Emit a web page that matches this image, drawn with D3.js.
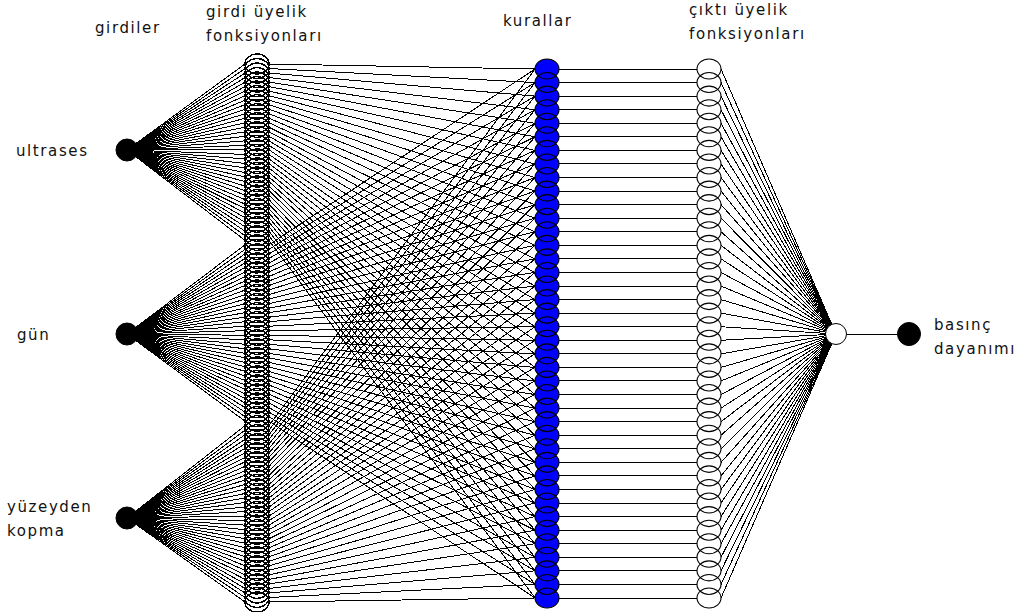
<!DOCTYPE html>
<html>
<head>
<meta charset="utf-8">
<script src="https://cdn.jsdelivr.net/npm/d3@7"></script>
<style>
  body { margin: 0; background: #fff; }
  text { font-family: "DejaVu Sans", sans-serif; font-size: 15px; letter-spacing: 1.6px; fill: #111; }
</style>
</head>
<body>
<svg width="1026" height="612"></svg>
<script>
// inputs of the network and their labels (one line per entry)
var inputs = ["ultrases", "gün", "yüzeyden kopma"];
var inputLabels = [["ultrases"], ["gün"], ["yüzeyden", "kopma"]];
var outputLabel = ["basınç", "dayanımı"];
// layer titles
var layerTitles = [
  ["girdiler"],
  ["girdi üyelik", "fonksiyonları"],
  ["kurallar"],
  ["çıktı üyelik", "fonksiyonları"]
];
// clustering type fis: one mf per rule per input
var ruleCount = 40;
var layers = ["input", "inmf", "rule", "outmf", "sum", "output"];

var svg = d3.select("svg");

// x position of each layer
var x = d3.scaleOrdinal()
  .domain(layers)
  .range([127, 257, 547, 709, 836, 909]);
var rx = 12, ry = 10;

// y scales
var yInput = d3.scalePoint().domain(d3.range(inputs.length)).range([150, 518]);
var mfCount = inputs.length * ruleCount;
var yMf = d3.scaleLinear().domain([0, mfCount - 1]).range([64, 602]);
var yRule = d3.scaleLinear().domain([0, ruleCount - 1]).range([69, 598]);
var yMid = (yRule(0) + yRule(ruleCount - 1)) / 2 + 0.5;

var links = svg.append("g")
  .attr("stroke", "#000")
  .attr("stroke-width", 1)
  .attr("shape-rendering", "crispEdges");

function link(x1, y1, x2, y2) {
  links.append("line")
    .attr("x1", x1).attr("y1", y1)
    .attr("x2", x2).attr("y2", y2);
}

// input -> input membership functions
inputs.forEach(function(name, i) {
  for (var k = 0; k < ruleCount; k++) {
    link(x("input"), yInput(i), x("inmf") - rx, yMf(i * ruleCount + k));
  }
});

// input mf -> rule (rule k uses mf k of every input)
for (var k = 0; k < ruleCount; k++) {
  inputs.forEach(function(name, i) {
    link(x("inmf") + rx, yMf(i * ruleCount + k), x("rule") - rx, yRule(k));
  });
  // rule -> output mf
  link(x("rule") + rx, yRule(k), x("outmf") - rx, yRule(k));
  // output mf -> sum node
  link(x("outmf") + rx, yRule(k), x("sum"), yMid);
}
link(x("sum"), yMid, x("output"), yMid);

// node columns: fills first, then all outlines on top
var cols = [
  { cls: "inmf", xk: "inmf", n: mfCount, y: yMf, fill: "none", sw: 1.4 },
  { cls: "rule", xk: "rule", n: ruleCount, y: yRule, fill: "#0000ff", sw: 1.1 },
  { cls: "outmf", xk: "outmf", n: ruleCount, y: yRule, fill: "#fff", sw: 1.1 }
];

var fills = svg.append("g");
var outlines = svg.append("g").attr("fill", "none").attr("stroke", "#000");

cols.forEach(function(c) {
  if (c.fill !== "none") {
    fills.selectAll("." + c.cls)
      .data(d3.range(c.n))
      .join("ellipse")
      .attr("class", c.cls)
      .attr("cx", x(c.xk))
      .attr("cy", function(d) { return c.y(d); })
      .attr("rx", rx).attr("ry", ry)
      .attr("fill", c.fill);
  }
  outlines.selectAll("." + c.cls)
    .data(d3.range(c.n))
    .join("ellipse")
    .attr("class", c.cls)
    .attr("cx", x(c.xk))
    .attr("cy", function(d) { return c.y(d); })
    .attr("rx", rx).attr("ry", ry)
    .attr("stroke-width", c.sw)
    .attr("shape-rendering", c.cls === "inmf" ? "crispEdges" : null);
});

var nodes = svg.append("g").attr("stroke", "#000").attr("stroke-width", 1);

nodes.selectAll(".input")
  .data(inputs)
  .join("circle")
  .attr("class", "input")
  .attr("cx", x("input"))
  .attr("cy", function(d, i) { return yInput(i); })
  .attr("r", 11)
  .attr("fill", "#000");

nodes.append("circle")
  .attr("cx", x("sum")).attr("cy", yMid).attr("r", 10.5)
  .attr("fill", "#fff");
nodes.append("circle")
  .attr("cx", x("output")).attr("cy", yMid).attr("r", 11.5)
  .attr("fill", "#000");

// labels
function multiLine(lines, xPos, yPos, lh) {
  var t = svg.append("text").attr("x", xPos).attr("y", yPos);
  lines.forEach(function(s, j) {
    t.append("tspan").attr("x", xPos).attr("dy", j ? lh : 0).text(s);
  });
  return t;
}

var inputLabelX = [16, 17, 7];
inputLabels.forEach(function(lines, i) {
  var top = yInput(i) + 6 - (lines.length - 1) * 18 + (lines.length > 1 ? 6 : 0);
  multiLine(lines, inputLabelX[i], top, 24);
});

multiLine(layerTitles[0], 95, 33, 24);
multiLine(layerTitles[1], 206, 17, 24);
multiLine(layerTitles[2], 503, 26, 24);
multiLine(layerTitles[3], 689, 15, 24);
multiLine(outputLabel, 934, 330, 24);
</script>
</body>
</html>
